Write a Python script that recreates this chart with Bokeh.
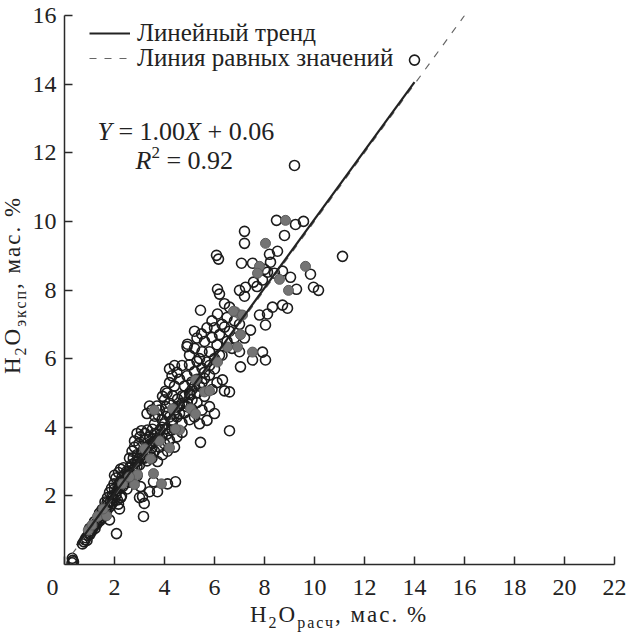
import math
from bokeh.plotting import figure
from bokeh.models import Range1d, FixedTicker, Label, Legend, LegendItem, Div
from bokeh.layouts import row, column
from bokeh.embed import file_html
from bokeh.resources import INLINE

# ---------------- data ----------------
open_x = [0.30, 0.33, 0.36, 0.31,
          0.72, 0.78, 0.82, 0.86, 0.90, 0.94, 0.98, 1.02, 1.06, 1.10, 1.14, 1.18, 1.22, 1.26, 1.30, 1.36,
          1.42, 1.46, 1.50, 1.56, 1.60, 1.64, 1.70, 1.74, 1.80, 1.84, 1.90, 1.94, 2.00, 2.06, 1.62, 1.72,
          1.80, 1.88, 1.80, 2.08, 2.20, 2.16, 2.12, 2.25,
          3.16, 3.19, 3.12, 3.00, 3.04, 3.40, 3.72, 4.12, 4.44, 3.56,
          2.10, 2.14, 2.20, 2.24, 2.30, 2.34, 2.40, 2.44, 2.50, 2.54, 2.60, 2.64, 2.70, 2.74, 2.84, 2.90,
          1.98, 2.06, 2.16, 2.36, 2.50, 2.62, 2.90, 2.28, 2.00, 2.24,
          2.60, 2.70, 2.80, 2.90, 2.98, 3.02, 3.08, 3.12, 3.20, 3.22, 3.30, 3.32, 3.40, 3.42, 3.50, 3.52,
          3.60, 3.62, 3.70, 3.80, 3.82, 3.90, 4.00, 4.02, 4.10, 4.20, 4.30, 4.40, 4.50, 3.10, 3.30, 3.50,
          3.72, 3.92, 4.12, 2.80, 2.90, 4.70, 5.44, 6.60,
          3.50, 3.62, 3.70, 3.80, 3.90, 3.92, 4.00, 4.08, 4.10, 4.20, 4.30, 4.32, 4.42, 4.50, 4.52, 4.60,
          4.70, 4.72, 4.80, 4.90, 5.00, 5.02, 5.10, 5.20, 5.30, 5.40, 5.50, 5.60, 3.40, 3.30, 5.80, 6.00, 5.70,
          4.04, 4.20, 4.30, 4.40, 4.50, 4.60, 4.70, 4.80, 4.90, 5.00, 5.10, 5.20, 5.30, 5.40, 5.50, 5.60,
          5.70, 5.80, 6.00, 6.10, 6.32, 6.60, 6.40, 4.40, 4.20, 5.10, 5.30, 5.90,
          4.90, 4.92, 5.00, 5.20, 5.30, 5.48, 5.50, 5.60, 5.70, 5.80, 5.90, 6.00, 6.10, 6.20, 6.30, 6.40,
          6.50, 6.60, 6.70, 6.80, 7.04, 7.52, 8.04, 7.92, 7.44, 8.04, 7.20, 7.00, 5.40, 5.20,
          5.44, 6.12, 6.60, 7.80, 6.30, 6.50, 6.80, 7.00, 7.20, 6.12, 6.20, 7.00, 7.24, 8.12, 8.32, 8.72,
          8.92, 6.40, 5.90,
          6.08, 6.16, 7.08, 7.52, 8.24, 8.12, 8.40, 8.72, 9.04, 9.84, 7.56, 7.92, 9.28, 9.96, 10.16, 7.70, 8.00,
          8.48, 9.24, 9.56, 7.20, 7.20, 8.80, 8.52, 8.20, 11.12, 9.20, 14.00,
          1.00, 1.20, 1.40, 1.50, 1.70, 1.90, 2.00, 2.20, 2.30, 2.40, 2.50, 2.60, 2.70, 2.80, 2.90, 3.00,
          3.00, 3.10, 3.20, 3.30, 3.40, 3.50, 3.60, 3.70, 3.80, 3.90, 4.00, 4.10, 4.20, 4.30, 4.40, 4.50,
          4.60, 4.70, 4.80, 4.90, 5.00, 5.10, 5.20, 5.30, 5.50, 5.60, 5.80, 6.00, 6.20, 2.75, 3.25, 3.60,
          3.75, 4.05]
open_y = [0.05, 0.12, 0.08, 0.18,
          0.60, 0.66, 0.72, 0.78, 0.70, 0.85, 0.92, 0.88, 1.00, 0.98, 1.08, 1.12, 1.05, 1.20, 1.18, 1.30,
          1.28, 1.42, 1.36, 1.50, 1.46, 1.62, 1.58, 1.74, 1.68, 1.84, 1.78, 1.95, 1.90, 2.02, 1.82, 1.95,
          2.10, 2.22, 1.30, 0.90, 1.62, 1.76, 1.88, 1.95,
          1.40, 1.78, 1.98, 1.95, 2.27, 2.12, 2.12, 2.35, 2.41, 2.41,
          2.15, 2.30, 2.22, 2.42, 2.55, 2.28, 2.62, 2.46, 2.72, 2.56, 2.82, 2.66, 2.92, 2.76, 2.98, 2.86,
          2.35, 2.52, 2.68, 2.82, 2.20, 2.40, 2.58, 2.00, 2.60, 2.78,
          3.10, 3.30, 3.42, 3.20, 3.52, 3.72, 3.90, 3.30, 3.62, 3.82, 3.42, 3.92, 3.72, 3.22, 3.52, 3.94,
          3.30, 3.82, 3.62, 3.42, 3.92, 3.72, 3.52, 3.95, 3.80, 3.62, 3.92, 3.42, 3.72, 3.10, 3.02, 3.10,
          3.00, 3.20, 3.30, 3.60, 3.82, 3.85, 3.56, 3.90,
          4.50, 4.32, 4.62, 4.50, 4.22, 4.90, 4.80, 4.42, 5.00, 4.70, 4.10, 4.92, 4.50, 4.30, 4.82, 4.62,
          4.12, 4.92, 4.42, 4.72, 4.22, 4.95, 4.52, 4.30, 4.72, 4.10, 4.50, 4.90, 4.62, 4.40, 4.60, 4.40, 4.20,
          5.05, 5.30, 5.50, 5.20, 5.60, 5.40, 5.80, 5.20, 5.50, 5.82, 5.32, 5.62, 5.92, 5.20, 5.72, 5.42,
          5.90, 5.52, 5.70, 5.30, 5.38, 5.03, 5.06, 5.80, 5.70, 5.10, 5.00, 5.10,
          6.35, 6.42, 6.10, 6.30, 6.60, 6.72, 6.20, 6.50, 6.90, 6.20, 6.62, 6.90, 6.40, 6.70, 6.10, 6.92,
          6.50, 6.80, 6.30, 6.60, 5.76, 5.96, 5.96, 6.19, 6.83, 6.98, 6.60, 6.20, 6.00, 6.80,
          7.41, 7.30, 7.50, 7.27, 7.00, 7.20, 7.10, 7.00, 7.82, 8.02, 7.88, 7.99, 8.08, 7.30, 7.50, 7.56,
          7.47, 7.60, 7.10,
          9.01, 8.90, 8.78, 8.78, 8.81, 8.52, 8.49, 8.55, 8.37, 8.46, 8.23, 8.29, 8.02, 8.08, 7.99, 8.10, 8.60,
          10.03, 9.91, 10.00, 9.71, 9.36, 9.59, 9.13, 9.04, 8.98, 11.63, 14.70,
          1.05, 1.25, 1.50, 1.60, 1.80, 2.00, 2.20, 2.35, 2.45, 2.35, 2.50, 2.70, 2.60, 2.80, 3.00, 3.10,
          2.90, 3.20, 3.10, 3.30, 3.50, 3.40, 3.60, 3.80, 3.70, 4.00, 4.10, 3.95, 4.30, 4.20, 4.40, 4.60,
          4.40, 4.70, 4.90, 4.60, 5.00, 4.80, 5.20, 5.40, 5.30, 5.60, 5.80, 6.00, 6.10, 3.10, 3.65, 4.10,
          4.35, 4.60]

fill_x = [1.32, 1.68, 1.55, 2.32, 2.80, 2.92, 2.60, 3.88, 3.56, 3.44, 3.20, 3.80, 4.20, 4.60, 4.44,
          3.59, 4.32, 5.04, 5.24, 5.60, 5.80, 5.24, 6.12, 6.52, 6.92, 7.52, 7.04, 6.84, 7.04, 6.76,
          7.12, 8.84, 8.04, 7.80, 7.72, 8.60, 9.64, 8.96, 0.95, 1.10]
fill_y = [1.40, 1.42, 1.62, 2.35, 2.33, 2.62, 2.55, 2.35, 2.65, 3.08, 3.37, 3.60, 3.40, 3.92, 3.95,
          4.50, 4.54, 4.54, 4.39, 5.03, 5.06, 5.38, 5.90, 6.34, 6.34, 6.19, 6.70, 7.36, 7.27, 7.38,
          7.27, 10.03, 9.36, 8.69, 8.49, 8.31, 8.69, 7.99, 1.00, 1.15]

trend_slope = 1.00
trend_intercept = 0.06
trend_x = [0.5, 14.0]
equal_x = [0.3, 16.0]

x_ticks = [0, 2, 4, 6, 8, 10, 12, 14, 16, 18, 20, 22]
y_ticks = [2, 4, 6, 8, 10, 12, 14, 16]

legend_labels = ["Линейный тренд", "Линия равных значений"]
x_title_html = "H<sub>2</sub>O<sub>расч</sub>, мас. %"
y_title_html = "H<sub>2</sub>O<sub>эксп</sub>, мас. %"

# ---------------- layout (content coords; the page adds an 8px margin) ----------------
PAGE_OFF = 8
FONT = "Liberation Serif"
YDIV_W = 28
FIG_W, FIG_H = 600, 602
BL, BR, BT, BB = 36, 14, 15, 37
FRAME_L = PAGE_OFF + YDIV_W + BL      # page x of data x = 0
FRAME_B = PAGE_OFF + FIG_H - BB       # page y of data y = 0
FW = FIG_W - BL - BR
FH = FIG_H - BT - BB
XMAX, YMAX = 22, 16

def X(px):  # page pixel -> data x
    return (px - FRAME_L) / FW * XMAX

def Y(py):  # page pixel -> data y
    return (FRAME_B - py) / FH * YMAX

p = figure(width=FIG_W, height=FIG_H, x_range=Range1d(0, XMAX), y_range=Range1d(0, YMAX),
           output_backend="svg", toolbar_location=None,
           min_border_left=BL, min_border_right=BR, min_border_top=BT, min_border_bottom=BB)
p.outline_line_color = None
p.grid.visible = False

for ax in (p.xaxis[0], p.yaxis[0]):
    ax.axis_line_color = "#2a2a2a"
    ax.axis_line_width = 1.5
    ax.major_tick_line_color = "#2a2a2a"
    ax.major_tick_line_width = 1.5
    ax.major_tick_in = 8
    ax.major_tick_out = 0
    ax.minor_tick_line_color = None
    ax.major_label_text_font = FONT
    ax.major_label_text_font_size = "24px"
    ax.major_label_text_color = "#222222"
p.xaxis[0].ticker = FixedTicker(ticks=x_ticks)
p.yaxis[0].ticker = FixedTicker(ticks=y_ticks)
p.xaxis[0].major_label_overrides = {0: "0\u2002\u2002"}
p.xaxis[0].major_label_standoff = 9
p.yaxis[0].major_label_standoff = 8

# ---------------- marks ----------------
p.scatter(open_x, open_y, size=10, marker="circle", fill_alpha=0,
          line_color="#1c1c1c", line_width=1.6)
p.scatter(fill_x, fill_y, size=10, marker="circle", fill_color="#747474",
          line_color="#5e5e5e", line_width=1)

eq_y = [v for v in equal_x]
r_eq = p.line(equal_x, eq_y, line_color="#666666", line_width=1.2, line_dash="7 8")
tr_y = [trend_slope * v + trend_intercept for v in trend_x]
r_tr = p.line(trend_x, tr_y, line_color="#222222", line_width=2.2)

# one legend per row, so that the row pitch matches the reference
ROW_H = 28
for lab, rend, row_center in ((legend_labels[0], r_tr, 42), (legend_labels[1], r_eq, 67)):
    lg = Legend(items=[LegendItem(label=lab, renderers=[rend])],
                location=(25, FRAME_B - row_center - ROW_H // 2), padding=0, spacing=0, margin=0,
                glyph_width=41, glyph_height=20, label_height=20, label_standoff=7,
                label_text_font=FONT, label_text_font_size="25px", label_text_color="#222222",
                border_line_alpha=0, background_fill_alpha=0)
    p.add_layout(lg)

# ---------------- equation texts ----------------
WID = {'0': 0.5, '1': 0.5, '2': 0.5, '6': 0.5, '9': 0.5, '.': 0.25, ' ': 0.25, '=': 0.564, '+': 0.564}
WID_IT = {'Y': 0.556, 'X': 0.611, 'R': 0.611}

def tw(s, size, italic=False):
    d = WID_IT if italic else WID
    return sum(d.get(c, WID.get(c, 0.5)) for c in s) * size

def put_seq(parts, x0, y_mid):
    pos = 0.0
    for text, size, italic, shift in parts:
        if text.strip():
            p.add_layout(Label(x=X(x0 + pos), y=Y(y_mid + shift), text=text,
                               text_font=FONT, text_font_size=f"{size}px",
                               text_font_style="italic" if italic else "normal",
                               text_align="left", text_baseline="middle",
                               text_color="#222222"))
        pos += tw(text, size, italic)

EF = 26
put_seq([("Y", EF, True, 0), (" ", EF, False, 0), ("= 1.00", EF, False, 0), ("X", EF, True, 0),
         (" ", EF, False, 0), ("+ 0.06", EF, False, 0)], 105, 139)
put_seq([("R", EF, True, 0), ("2", 17, False, -8), (" ", EF, False, 0), ("= 0.92", EF, False, 0)], 143, 168)

# ---------------- axis titles (HTML, with subscripts) ----------------
SUB = '<sub style="font-size:16px;vertical-align:-6px;line-height:0;">'
def with_sub(html):
    return html.replace("<sub>", SUB)

base_style = ("white-space:nowrap;font-family:'Liberation Serif',serif;font-size:23px;"
              "letter-spacing:2px;color:#222222;line-height:20px;")

y_center = 281 - PAGE_OFF
ydiv = Div(width=YDIV_W, height=FIG_H, margin=0, text=(
    f'<div style="position:relative;width:{YDIV_W}px;height:0px;">'
    f'<div style="position:absolute;left:13px;top:{y_center}px;'
    f'transform:translate(-50%,-50%) rotate(-90deg);{base_style}">{with_sub(y_title_html)}</div></div>'))

XDIV_H = 624 - FIG_H
x_center = 347 - PAGE_OFF
xdiv = Div(width=YDIV_W + FIG_W, height=XDIV_H, margin=0, text=(
    f'<div style="position:relative;width:{YDIV_W + FIG_W}px;height:0px;">'
    f'<div style="position:absolute;left:{x_center}px;top:-9px;transform:translateX(-50%);{base_style}">'
    f'{with_sub(x_title_html)}</div></div>'))

layout = column(row(ydiv, p, spacing=0), xdiv, spacing=0)

open("out.html", "w").write(file_html(layout, INLINE))
